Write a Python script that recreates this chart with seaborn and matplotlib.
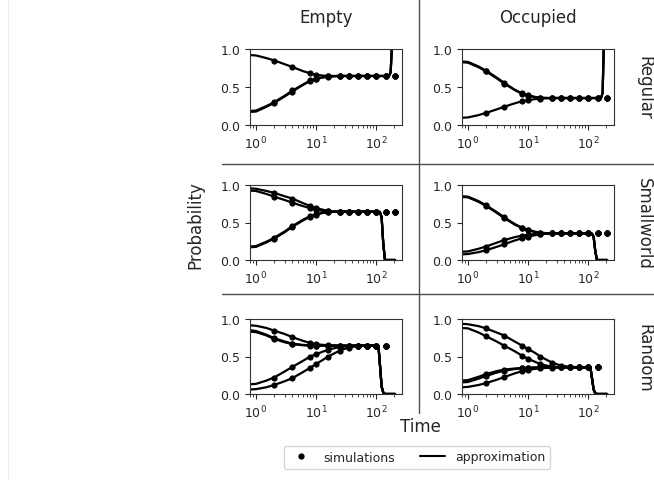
import matplotlib
matplotlib.use("Agg")
import matplotlib.pyplot as plt
import pandas as pd
import seaborn as sns
from matplotlib.lines import Line2D

COLUMNS = ["Empty", "Occupied"]
ROWS = ["Regular", "Smallworld", "Random"]

T_HEAD = [0.8, 1, 1.5, 2, 3, 4, 6, 8, 10, 13, 16, 20, 25, 35, 50, 80]
T_TAIL = [104, 110, 116, 124, 132, 141, 165, 175, 182, 190, 208]
T_SIM = [2, 4, 8, 10, 16, 25, 35, 50, 72, 100, 145, 207]
T_SIM_RANDOM = [2, 4, 8, 10, 16, 25, 35, 50, 72, 100, 145]

# ---- Regular / Empty
RE_HEAD = [
    [0.92, 0.915, 0.88, 0.85, 0.80, 0.765, 0.71, 0.68, 0.662, 0.65, 0.646, 0.645, 0.645, 0.645, 0.645, 0.645],
    [0.185, 0.19, 0.25, 0.30, 0.385, 0.45, 0.53, 0.585, 0.61, 0.628, 0.638, 0.643, 0.645, 0.645, 0.645, 0.645],
    [0.172, 0.177, 0.24, 0.29, 0.375, 0.44, 0.525, 0.58, 0.605, 0.625, 0.636, 0.642, 0.645, 0.645, 0.645, 0.645],
]
RE_TAIL = [0.645, 0.645, 0.645, 0.645, 0.645, 0.645, 0.648, 0.69, 0.95, 2.0, 3.0]
RE_SIM = [
    [0.845, 0.765, 0.685, 0.662, 0.646, 0.645, 0.645, 0.645, 0.645, 0.645, 0.645, 0.645],
    [0.30, 0.455, 0.59, 0.61, 0.64, 0.645, 0.645, 0.645, 0.645, 0.645, 0.645, 0.645],
    [0.29, 0.44, 0.58, 0.605, 0.637, 0.645, 0.645, 0.645, 0.645, 0.645, 0.645, 0.645],
]

# ---- Regular / Occupied
RO_HEAD = [
    [0.835, 0.83, 0.77, 0.715, 0.625, 0.555, 0.465, 0.415, 0.39, 0.37, 0.36, 0.356, 0.355, 0.355, 0.355, 0.355],
    [0.825, 0.82, 0.76, 0.705, 0.615, 0.545, 0.46, 0.41, 0.385, 0.367, 0.358, 0.355, 0.355, 0.355, 0.355, 0.355],
    [0.095, 0.10, 0.13, 0.16, 0.205, 0.24, 0.285, 0.313, 0.327, 0.34, 0.347, 0.352, 0.355, 0.355, 0.355, 0.355],
]
RO_TAIL = [0.355, 0.355, 0.355, 0.355, 0.355, 0.355, 0.358, 0.42, 0.95, 2.0, 3.0]
RO_SIM = [
    [0.715, 0.555, 0.415, 0.39, 0.36, 0.355, 0.355, 0.355, 0.355, 0.355, 0.355, 0.355],
    [0.705, 0.545, 0.41, 0.385, 0.358, 0.355, 0.355, 0.355, 0.355, 0.355, 0.355, 0.355],
    [0.16, 0.24, 0.313, 0.327, 0.347, 0.355, 0.355, 0.355, 0.355, 0.355, 0.355, 0.355],
]

# ---- Smallworld / Empty
SE_HEAD = [
    [0.955, 0.95, 0.92, 0.895, 0.85, 0.82, 0.76, 0.72, 0.695, 0.67, 0.655, 0.648, 0.645, 0.645, 0.645, 0.645],
    [0.925, 0.92, 0.88, 0.845, 0.80, 0.765, 0.72, 0.69, 0.67, 0.655, 0.648, 0.645, 0.645, 0.645, 0.645, 0.645],
    [0.18, 0.185, 0.245, 0.295, 0.38, 0.45, 0.535, 0.585, 0.612, 0.63, 0.64, 0.644, 0.645, 0.645, 0.645, 0.645],
    [0.17, 0.175, 0.235, 0.285, 0.37, 0.44, 0.525, 0.578, 0.606, 0.627, 0.638, 0.643, 0.645, 0.645, 0.645, 0.645],
]
SE_TAIL = [0.645, 0.645, 0.64, 0.57, 0.22, 0.0, 0.0, 0.0, 0.0, 0.0, 0.0]
SE_SIM = [
    [0.895, 0.82, 0.72, 0.695, 0.655, 0.645, 0.645, 0.645, 0.645, 0.645, 0.645, 0.645],
    [0.845, 0.765, 0.69, 0.67, 0.648, 0.645, 0.645, 0.645, 0.645, 0.645, 0.645, 0.645],
    [0.295, 0.45, 0.585, 0.612, 0.64, 0.645, 0.645, 0.645, 0.645, 0.645, 0.645, 0.645],
    [0.285, 0.44, 0.578, 0.606, 0.638, 0.645, 0.645, 0.645, 0.645, 0.645, 0.645, 0.645],
]

# ---- Smallworld / Occupied
SO_HEAD = [
    [0.85, 0.845, 0.785, 0.73, 0.64, 0.57, 0.48, 0.43, 0.40, 0.378, 0.365, 0.358, 0.355, 0.355, 0.355, 0.355],
    [0.84, 0.835, 0.775, 0.72, 0.63, 0.56, 0.472, 0.424, 0.395, 0.374, 0.363, 0.357, 0.355, 0.355, 0.355, 0.355],
    [0.11, 0.115, 0.15, 0.18, 0.23, 0.265, 0.305, 0.325, 0.337, 0.347, 0.352, 0.355, 0.355, 0.355, 0.355, 0.355],
    [0.075, 0.08, 0.105, 0.13, 0.175, 0.21, 0.26, 0.29, 0.31, 0.33, 0.342, 0.35, 0.355, 0.355, 0.355, 0.355],
]
SO_TAIL = [0.355, 0.355, 0.352, 0.31, 0.12, 0.0, 0.0, 0.0, 0.0, 0.0, 0.0]
SO_SIM = [
    [0.73, 0.57, 0.43, 0.40, 0.365, 0.355, 0.355, 0.355, 0.355, 0.355, 0.355, 0.355],
    [0.72, 0.56, 0.424, 0.395, 0.363, 0.355, 0.355, 0.355, 0.355, 0.355, 0.355, 0.355],
    [0.18, 0.265, 0.325, 0.337, 0.352, 0.355, 0.355, 0.355, 0.355, 0.355, 0.355, 0.355],
    [0.13, 0.21, 0.29, 0.31, 0.342, 0.355, 0.355, 0.355, 0.355, 0.355, 0.355, 0.355],
]

# ---- Random / Empty
BE_HEAD = [
    [0.915, 0.91, 0.88, 0.845, 0.80, 0.76, 0.71, 0.68, 0.665, 0.655, 0.65, 0.647, 0.645, 0.645, 0.645, 0.645],
    [0.85, 0.84, 0.79, 0.745, 0.70, 0.672, 0.655, 0.648, 0.645, 0.645, 0.645, 0.645, 0.645, 0.645, 0.645, 0.645],
    [0.83, 0.825, 0.78, 0.735, 0.69, 0.665, 0.65, 0.645, 0.645, 0.645, 0.645, 0.645, 0.645, 0.645, 0.645, 0.645],
    [0.13, 0.135, 0.18, 0.22, 0.30, 0.36, 0.44, 0.50, 0.53, 0.565, 0.59, 0.61, 0.625, 0.64, 0.645, 0.645],
    [0.06, 0.065, 0.09, 0.12, 0.17, 0.21, 0.29, 0.35, 0.40, 0.455, 0.50, 0.54, 0.58, 0.62, 0.64, 0.645],
]
BE_TAIL = [0.645, 0.63, 0.40, 0.10, 0.02, 0.0, 0.0, 0.0, 0.0, 0.0, 0.0]
BE_SIM = [
    [0.845, 0.76, 0.68, 0.665, 0.65, 0.645, 0.645, 0.645, 0.645, 0.645, 0.645],
    [0.745, 0.672, 0.648, 0.645, 0.645, 0.645, 0.645, 0.645, 0.645, 0.645, 0.645],
    [0.735, 0.665, 0.645, 0.645, 0.645, 0.645, 0.645, 0.645, 0.645, 0.645, 0.645],
    [0.22, 0.36, 0.50, 0.53, 0.59, 0.625, 0.64, 0.645, 0.645, 0.645, 0.645],
    [0.12, 0.21, 0.35, 0.40, 0.50, 0.58, 0.62, 0.64, 0.645, 0.645, 0.645],
]

# ---- Random / Occupied
BO_HEAD = [
    [0.935, 0.93, 0.905, 0.875, 0.82, 0.78, 0.70, 0.645, 0.60, 0.55, 0.50, 0.46, 0.42, 0.38, 0.362, 0.356],
    [0.88, 0.875, 0.82, 0.77, 0.70, 0.645, 0.57, 0.51, 0.47, 0.43, 0.40, 0.38, 0.365, 0.357, 0.355, 0.355],
    [0.18, 0.185, 0.23, 0.265, 0.305, 0.325, 0.34, 0.347, 0.35, 0.353, 0.355, 0.355, 0.355, 0.355, 0.355, 0.355],
    [0.155, 0.16, 0.205, 0.24, 0.285, 0.31, 0.333, 0.343, 0.348, 0.352, 0.355, 0.355, 0.355, 0.355, 0.355, 0.355],
    [0.09, 0.095, 0.12, 0.145, 0.19, 0.225, 0.275, 0.305, 0.32, 0.335, 0.343, 0.348, 0.352, 0.355, 0.355, 0.355],
]
BO_TAIL = [0.355, 0.345, 0.22, 0.06, 0.01, 0.0, 0.0, 0.0, 0.0, 0.0, 0.0]
BO_SIM = [
    [0.875, 0.78, 0.645, 0.60, 0.50, 0.42, 0.38, 0.362, 0.356, 0.355, 0.355],
    [0.77, 0.645, 0.51, 0.47, 0.40, 0.365, 0.357, 0.355, 0.355, 0.355, 0.355],
    [0.265, 0.325, 0.347, 0.35, 0.355, 0.355, 0.355, 0.355, 0.355, 0.355, 0.355],
    [0.24, 0.31, 0.343, 0.348, 0.355, 0.355, 0.355, 0.355, 0.355, 0.355, 0.355],
    [0.145, 0.225, 0.305, 0.32, 0.343, 0.352, 0.355, 0.355, 0.355, 0.355, 0.355],
]

PANELS = {
    (0, 0): (RE_HEAD, RE_TAIL, RE_SIM, T_SIM),
    (0, 1): (RO_HEAD, RO_TAIL, RO_SIM, T_SIM),
    (1, 0): (SE_HEAD, SE_TAIL, SE_SIM, T_SIM),
    (1, 1): (SO_HEAD, SO_TAIL, SO_SIM, T_SIM),
    (2, 0): (BE_HEAD, BE_TAIL, BE_SIM, T_SIM_RANDOM),
    (2, 1): (BO_HEAD, BO_TAIL, BO_SIM, T_SIM_RANDOM),
}

sns.set_style("ticks")
plt.rcParams["font.family"] = ["DejaVu Sans"]

W, H = 654, 481
fig = plt.figure(figsize=(W / 100, H / 100), dpi=100)

col_x = [250, 462]
ax_w = 152
row_y = [(50, 126), (186, 261), (320, 395)]

for (r, c), (heads, tail, sims, tsim) in PANELS.items():
    top, bot = row_y[r]
    ax = fig.add_axes([col_x[c] / W, 1 - bot / H, ax_w / W, (bot - top) / H])
    ax.set_xscale("log")
    rows_a = []
    for i, head in enumerate(heads):
        for t, p in zip(T_HEAD + T_TAIL, head + tail):
            rows_a.append({"t": t, "p": p, "curve": i})
    df_a = pd.DataFrame(rows_a)
    rows_s = []
    for i, sim in enumerate(sims):
        for t, p in zip(tsim, sim):
            rows_s.append({"t": t, "p": p, "curve": i})
    df_s = pd.DataFrame(rows_s)
    sns.lineplot(data=df_a, x="t", y="p", units="curve", estimator=None,
                 color="black", lw=1.6, ax=ax, legend=False, sort=False)
    sns.scatterplot(data=df_s, x="t", y="p", color="black", s=20,
                    linewidth=0, ax=ax, legend=False, zorder=3)
    ax.set_xlim(0.794, 271)
    ax.set_ylim(0, 1)
    ax.set_yticks([0, 0.5, 1.0])
    ax.set_xlabel("")
    ax.set_ylabel("")
    ax.tick_params(labelsize=9, length=3.5, width=0.8)
    ax.tick_params(which="minor", length=2, width=0.6)
    for s in ax.spines.values():
        s.set_linewidth(0.8)
        s.set_color("0.2")

# column titles
fig.text(326 / W, 1 - 18 / H, COLUMNS[0], ha="center", va="center", fontsize=12)
fig.text(538 / W, 1 - 18 / H, COLUMNS[1], ha="center", va="center", fontsize=12)
# row labels
for lab, yc in zip(ROWS, [88, 224, 358]):
    fig.text(644 / W, 1 - yc / H, lab, ha="center", va="center", rotation=270, fontsize=12)
# axis labels
fig.text(195 / W, 1 - 225 / H, "Probability", ha="center", va="center", rotation=90, fontsize=12)
fig.text(420 / W, 1 - 427 / H, "Time", ha="center", va="center", fontsize=12)

# separator lines
sep = dict(transform=fig.transFigure, color="0.3", lw=1)
fig.add_artist(Line2D([222 / W, 1], [1 - 165 / H, 1 - 165 / H], **sep))
fig.add_artist(Line2D([222 / W, 1], [1 - 295 / H, 1 - 295 / H], **sep))
fig.add_artist(Line2D([419 / W, 419 / W], [1, 1 - 414 / H], **sep))
fig.add_artist(Line2D([8 / W, 8 / W], [0, 1], transform=fig.transFigure, color="0.93", lw=1))

handles = [Line2D([], [], marker="o", ls="", color="black", markersize=3.5),
           Line2D([], [], color="black", lw=1.5)]
fig.legend(handles, ["simulations", "approximation"], loc="center",
           bbox_to_anchor=(417 / W, 1 - 458 / H), ncol=2, fontsize=9, frameon=True)

fig.savefig("out.png", dpi=100)
